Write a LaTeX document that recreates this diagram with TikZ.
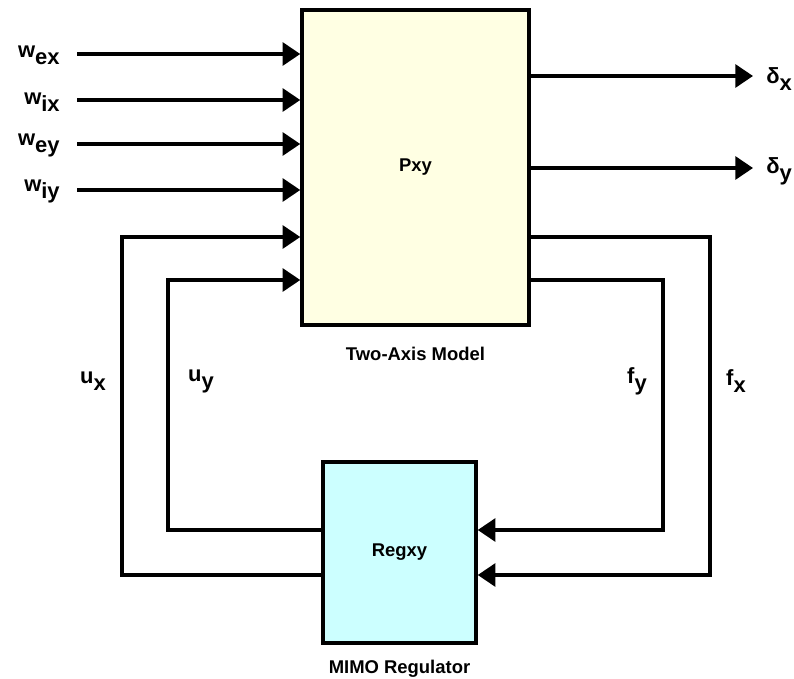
\documentclass[tikz,border=0pt]{standalone}
\usepackage{fontspec}
\setmainfont{Liberation Sans}
\usetikzlibrary{arrows.meta,positioning}
\definecolor{pxyfill}{HTML}{FFFFE3}
\definecolor{regfill}{HTML}{CCFFFF}
\newcommand{\sgn}[2]{#1\raisebox{-0.6ex}{#2}}

\begin{document}
\begin{tikzpicture}[x=0.02cm,y=-0.02cm,>={Triangle[length=10pt,width=13pt]},
  block/.style={draw,line width=2pt,font=\bfseries\fontsize{10.5}{12}\selectfont},
  sig/.style={line width=1.8pt,->},
  sigtext/.style={font=\bfseries\fontsize{12.5}{14}\selectfont,inner sep=0pt},
  caption/.style={font=\bfseries\fontsize{10.5}{12}\selectfont,inner sep=0pt}]
  \useasboundingbox (0,0) rectangle (794,679);
  % blocks
  \node[block,fill=pxyfill,minimum width=4.54cm,minimum height=6.3cm] (pxy) at (415.5,167.5) {Pxy};
  \node[block,fill=regfill,minimum width=3.06cm,minimum height=3.62cm] (reg) at (399.5,552.5) {Regxy};
  \node[caption,below=0.4cm of pxy] (pxycap) {Two-Axis Model};
  \node[caption,below=0.3cm of reg] (regcap) {MIMO Regulator};
  % exogenous inputs
  \foreach \sub/\yy in {ex/54,ix/100,ey/144,iy/190}{
    \coordinate (w\sub) at (77,\yy);
    \node[sigtext,anchor=east,xshift=-0.34cm,yshift=-1pt] (lw\sub) at (w\sub) {\sgn{w}{\sub}};
    \draw[sig] (w\sub) -- (w\sub -| pxy.west);
  }
  % outputs
  \foreach \sub/\yy in {x/76,y/168}{
    \coordinate (d\sub) at (753,\yy);
    \draw[sig] (pxy.east |- d\sub) -- (d\sub);
    \node[sigtext,anchor=west,xshift=0.26cm,yshift=-2pt] (ld\sub) at (d\sub) {\sgn{δ}{\sub}};
  }
  % feedback, x channel
  \coordinate (ux) at (122,575);
  \coordinate (fx) at (710,237);
  \draw[sig] (reg.west |- ux) -- (ux) |- (pxy.west |- fx);
  \draw[sig] (pxy.east |- fx) -- (fx) |- (reg.east |- ux);
  % feedback, y channel
  \coordinate (uy) at (168,530);
  \coordinate (fy) at (663,280);
  \draw[sig] (reg.west |- uy) -- (uy) |- (pxy.west |- fy);
  \draw[sig] (pxy.east |- fy) -- (fy) |- (reg.east |- uy);
  % loop labels
  \node[sigtext] (lux) at (93,381) {\sgn{u}{x}};
  \node[sigtext] (luy) at (201,381) {\sgn{u}{y}};
  \node[sigtext] (lfy) at (637,381) {\sgn{f}{y}};
  \node[sigtext] (lfx) at (736,381) {\sgn{f}{x}};
\end{tikzpicture}
\end{document}
